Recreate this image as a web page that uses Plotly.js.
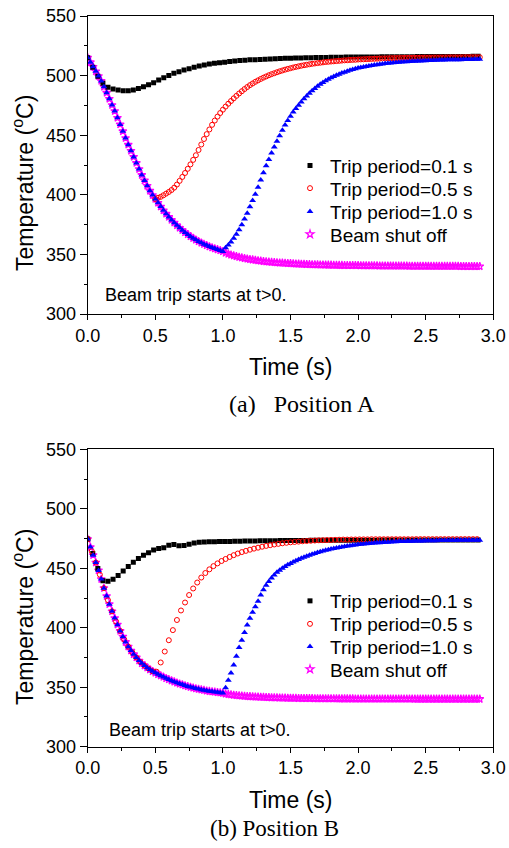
<!DOCTYPE html>
<html><head><meta charset="utf-8">
<script src="https://cdn.plot.ly/plotly-3.0.1.min.js"></script>
<style>html,body{margin:0;padding:0;background:#fff;} #chart{width:509px;height:848px;}</style>
</head><body><div id="chart"></div>
<script>
// ---------------- DATA ----------------
const legendNames = ["Trip period=0.1 s", "Trip period=0.5 s", "Trip period=1.0 s", "Beam shut off"];
const captions = ["(a)\u00a0\u00a0\u00a0Position A", "(b) Position B"];
const noteText = "Beam trip starts at t>0.";
const xTitle = "Time (s)";
const yTitle = "Temperature (<sup>o</sup>C)";
const xTickVals = [0, 0.5, 1.0, 1.5, 2.0, 2.5, 3.0];
const yTickVals = [300, 350, 400, 450, 500, 550];

// sampling: black every 0.0375 s from 0; others every 0.02 s (red B every 0.03 s)
const blackStep = 0.0375, fineStep = 0.02, redBStep = 0.03;

// ----- Position A -----
const blackA = [515.0,507.0,499.5,493.5,490.3,488.8,487.9,487.3,487.3,487.9,
489.2,490.7,492.4,494.1,496.3,498.3,500.1,501.9,503.3,504.7,
505.8,507.0,508.0,508.9,509.7,510.3,510.8,511.3,511.8,512.2,
512.6,512.9,513.2,513.4,513.6,513.8,514.0,514.2,514.3,514.5,514.6,
514.7,514.8,514.9,515.0,515.1,515.2,515.2,515.3,515.4,515.4,515.5,515.5,515.6,
515.6,515.7,515.7,515.7,515.8,515.8,515.8,515.9,515.9,515.9,515.9,516.0,
516.0,516.0,516.0,516.0,516.1,516.1,516.1,516.1,516.1,516.1,516.2,516.2];
// shared cooling curve t = 0 .. 1.00
const coolA = [515.0,511.2,507.4,503.6,499.6,495.5,490.6,485.6,480.5,475.3,
470.2,464.6,459.0,453.3,447.6,442.0,436.9,431.8,426.7,421.6,
416.6,412.0,407.5,403.4,399.8,396.5,393.3,390.1,387.0,384.1,
381.4,378.9,376.6,374.4,372.3,370.3,368.4,366.7,365.1,363.6,
362.2,360.9,359.7,358.6,357.6,356.6,355.7,354.9,354.1,353.3,352.5];
// red recovery t = 0.52 .. 2.90
const redRiseA = [397.5,398.3,399.6,401.0,402.4,404.0,406.0,408.6,411.7,415.0,
418.3,421.8,425.5,429.3,433.2,437.6,442.2,446.8,450.9,454.8,
458.7,462.3,465.6,468.6,471.4,
474.0,476.4,478.7,480.9,483.0,485.0,486.9,488.7,490.4,492.0,
493.4,494.8,496.0,497.2,498.3,499.3,500.3,501.2,502.0,502.8,
503.6,504.3,505.0,505.6,506.2,506.8,507.3,507.8,508.3,508.7,
509.1,509.5,509.9,510.2,510.5,510.8,511.1,511.4,511.6,511.8,
512.0,512.2,512.4,512.6,512.8,512.9,513.1,513.2,513.3,513.5,
513.6,513.7,513.8,513.9,514.0,514.1,514.2,514.3,514.4,514.4,
514.5,514.6,514.6,514.7,514.7,514.8,514.8,514.9,514.9,514.9,
515.0,515.0,515.0,515.1,515.1,515.1,515.1,515.2,515.2,515.2,
515.2,515.2,515.3,515.3,515.3,515.3,515.3,515.3,515.4,515.4,
515.4,515.4,515.4,515.4,515.4];
// blue recovery t = 1.02 .. 2.90
const blueRiseA = [355.5,357.8,360.5,363.5,366.8,370.6,374.9,379.6,384.6,390.0,
395.2,400.4,406.3,412.5,418.6,424.4,429.7,435.0,440.2,445.0,
449.6,454.1,458.5,462.4,466.0,469.4,472.5,475.2,477.9,480.5,
482.9,485.1,487.2,489.1,491.0,492.7,494.2,495.6,496.9,498.1,
499.2,500.2,501.2,502.1,502.9,503.7,504.4,505.1,505.7,506.3,
506.8,507.3,507.7,508.1,508.5,508.9,509.2,509.5,509.8,510.1,
510.4,510.6,510.8,511.0,511.2,511.4,511.6,511.7,511.9,512.0,
512.1,512.2,512.3,512.4,512.5,512.6,512.7,512.8,512.9,513.0,
513.0,513.1,513.2,513.2,513.3,513.3,513.4,513.4,513.5,513.5,
513.6,513.6,513.7,513.7,513.8];
// beam shut off tail t = 1.02 .. 2.90
const magTailA = [351.2,350.4,349.6,348.9,348.3,347.7,347.2,346.7,346.3,345.9,
345.5,345.1,344.8,344.5,344.2,343.9,343.7,343.5,343.3,343.1,
342.9,342.8,342.6,342.5,342.4,342.2,342.1,342.0,341.9,341.8,
341.7,341.6,341.5,341.5,341.4,341.3,341.3,341.2,341.1,341.1,
341.0,341.0,340.9,340.9,340.8,340.8,340.8,340.7,340.7,340.7,
340.6,340.6,340.6,340.5,340.5,340.5,340.5,340.4,340.4,340.4,
340.4,340.4,340.3,340.3,340.3,340.3,340.3,340.3,340.2,340.2,
340.2,340.2,340.2,340.2,340.2,340.2,340.1,340.1,340.1,340.1,
340.1,340.1,340.1,340.1,340.1,340.1,340.1,340.0,340.0,340.0,
340.0,340.0,340.0,340.0,340.0];

// ----- Position B -----
const blackB = [474.5,462.5,449.8,439.5,439.0,440.7,444.0,447.8,451.5,455.0,
458.3,461.0,463.1,465.3,466.6,467.3,469.4,470.0,469.0,469.1,
470.1,471.3,471.8,472.1,472.2,472.3,472.4,472.5,
472.6,472.7,472.8,472.9,473.0,473.0,473.1,473.1,473.2,473.2,
473.3,473.3,473.3,473.4,473.4,473.4,473.5,473.5,473.5,473.5,
473.6,473.6,473.6,473.6,473.6,473.6,473.6,473.6,473.6,473.6,
473.7,473.7,473.7,473.7,473.7,473.7,473.7,473.7,473.7,473.7,
473.8,473.8,473.8,473.8,473.8,473.8,473.8,473.8,473.8,473.8];
const coolB = [474.5,467.8,461.0,454.8,448.2,440.9,433.3,426.6,419.8,413.8,
408.1,402.6,397.3,392.5,388.0,384.1,380.8,377.7,375.0,372.4,
370.1,368.2,366.4,364.8,363.4,362.1,360.8,359.7,358.6,357.5,
356.5,355.5,354.6,353.7,352.9,352.2,351.4,350.7,350.1,349.5,
348.9,348.4,347.9,347.5,347.0,346.6,346.3,346.0,345.7,345.4,345.1];
// red (trip 0.5 s), t = 0 .. 2.88 every 0.03 s
const redB = [474.5,464.4,454.8,444.6,433.3,423.2,413.8,405.3,397.3,390.2,
384.1,379.2,375.0,371.2,368.2,365.6,363.4,363.0,370.8,380.0,
389.5,398.0,406.5,414.5,421.2,427.5,433.0,438.0,442.2,446.0,
449.1,451.8,454.1,456.1,457.8,459.5,461.0,462.4,463.6,464.6,
465.6,466.5,467.3,468.1,468.8,469.4,470.0,470.5,471.0,471.4,
471.8,472.1,472.4,472.7,472.9,473.1,473.3,473.5,473.6,473.7,
473.8,473.9,474.0,474.1,474.1,474.2,474.2,474.3,474.3,474.3,
474.4,474.4,474.4,474.4,474.4,474.4,474.4,474.4,474.4,474.4,
474.4,474.5,474.5,474.5,474.5,474.5,474.5,474.5,474.5,474.5,
474.5,474.5,474.5,474.5,474.5,474.5,474.5];
const blueRiseB = [349.6,355.8,361.9,368.7,376.0,383.3,389.5,396.0,402.4,408.0,
413.0,417.6,422.3,427.5,432.0,435.8,438.9,441.8,444.3,446.6,
448.3,450.0,451.5,452.9,454.1,455.2,456.3,457.4,458.4,459.3,
460.2,461.0,461.8,462.5,463.2,463.9,464.5,465.1,465.6,466.1,
466.6,467.1,467.5,467.9,468.3,468.7,469.0,469.3,469.6,469.9,
470.1,470.4,470.6,470.8,471.0,471.2,471.4,471.5,471.7,471.8,
471.9,472.1,472.2,472.3,472.4,472.5,472.6,472.7,472.7,472.8,
472.9,472.9,473.0,473.0,473.1,473.1,473.2,473.2,473.2,473.3,
473.3,473.3,473.4,473.4,473.4,473.4,473.5,473.5,473.5,473.5,
473.5,473.6,473.6,473.6,473.6];
const magTailB = [344.4,344.0,343.7,343.4,343.1,342.9,342.7,342.5,342.3,342.2,
342.0,341.9,341.8,341.7,341.6,341.5,341.4,341.3,341.2,341.2,
341.1,341.0,341.0,340.9,340.9,340.8,340.8,340.7,340.7,340.7,
340.6,340.6,340.6,340.5,340.5,340.5,340.5,340.4,340.4,340.4,
340.4,340.4,340.3,340.3,340.3,340.3,340.3,340.3,340.2,340.2,
340.2,340.2,340.2,340.2,340.2,340.2,340.2,340.2,340.2,340.2,
340.2,340.2,340.2,340.2,340.2,340.2,340.2,340.2,340.2,340.2,
340.1,340.1,340.1,340.1,340.1,340.1,340.1,340.1,340.1,340.1,
340.1,340.1,340.1,340.1,340.1,340.1,340.1,340.1,340.1,340.1,
340.1,340.1,340.1,340.1,340.1];

// ---------------- helpers ----------------
function grid(t0, dt, n) { const a = []; for (let i = 0; i < n; i++) a.push(+(t0 + i * dt).toFixed(4)); return a; }

const SANS = "Liberation Sans, Arial, sans-serif";
const SERIF = "Liberation Serif, Times New Roman, serif";
const W = 509, H = 848;
// plot areas in px: x 87.7..493.3 ; top y 16..314 ; bottom y 449.3..746.7
const xDom = [87.7 / W, 493.3 / W];
const yDomA = [1 - 314 / H, 1 - 16 / H];
const yDomB = [1 - 746.7 / H, 1 - 449.3 / H];

// legend slots: one legend per entry so rows sit where the reference has them
function makeTraces(black, cool, redX, redY, blueRise, magTail, xa, ya, legIds) {
  const tCool = grid(0, fineStep, cool.length);
  const tRise = grid(1.0 + fineStep, fineStep, blueRise.length);
  const tTail = grid(1.0 + fineStep, fineStep, magTail.length);
  const base = {type: "scatter", mode: "markers", xaxis: xa, yaxis: ya, hoverinfo: "skip"};
  return [
    Object.assign({}, base, {name: legendNames[3], legend: legIds[3], x: tCool.concat(tTail), y: cool.concat(magTail),
      marker: {symbol: "star-open", size: 6, color: "#ff00ff", line: {width: 1.2, color: "#ff00ff"}}}),
    Object.assign({}, base, {name: legendNames[0], legend: legIds[0], x: grid(0, blackStep, black.length), y: black,
      marker: {symbol: "square", size: 5, color: "#000000"}}),
    Object.assign({}, base, {name: legendNames[1], legend: legIds[1], x: redX, y: redY,
      marker: {symbol: "circle-open", size: 5, color: "#ff0000", line: {width: 1, color: "#ff0000"}}}),
    Object.assign({}, base, {name: legendNames[2], legend: legIds[2], x: tCool.concat(tRise), y: cool.concat(blueRise),
      marker: {symbol: "triangle-up", size: 6, color: "#0000ff"}})
  ];
}

// red A: last cooling point (t=0.50) followed by its recovery
const redXA = grid(0.5, fineStep, 1).concat(grid(0.52, fineStep, redRiseA.length));
const redYA = coolA.slice(25, 26).concat(redRiseA);
const tracesA = makeTraces(blackA, coolA, redXA, redYA, blueRiseA, magTailA, "x", "y",
  ["legend", "legend2", "legend3", "legend4"]);
const tracesB = makeTraces(blackB, coolB, grid(0, redBStep, redB.length), redB, blueRiseB, magTailB, "x2", "y2",
  ["legend5", "legend6", "legend7", "legend8"]);

const tickFont = {family: SANS, size: 18, color: "#000"};
const xMinor = [0.25, 0.75, 1.25, 1.75, 2.25, 2.75];
const yMinor = [325, 375, 425, 475, 525];
function xMain(anchor) {
  return {domain: xDom, anchor: anchor, range: [0, 3], tickvals: xTickVals, ticktext: xTickVals.map(v => v.toFixed(1)),
    ticks: "outside", ticklen: 5, tickwidth: 1, tickcolor: "#000", showline: true, mirror: true, linecolor: "#000", linewidth: 1,
    showgrid: false, zeroline: false, tickfont: tickFont,
    minor: {ticks: "outside", ticklen: 3, tickwidth: 1, tickcolor: "#000", tickvals: xMinor, showgrid: false}};
}
function yMain(anchor, dom) {
  return {domain: dom, anchor: anchor, range: [300, 550], tickvals: yTickVals,
    ticks: "outside", ticklen: 7, tickwidth: 1, tickcolor: "#000", showline: true, mirror: true, linecolor: "#000", linewidth: 1,
    showgrid: false, zeroline: false, tickfont: tickFont,
    minor: {ticks: "outside", ticklen: 3, tickwidth: 1, tickcolor: "#000", tickvals: yMinor, showgrid: false}};
}
function xTop(over, anchor) {
  return {overlaying: over, anchor: anchor, side: "top", range: [0, 3], tickvals: xTickVals, showticklabels: false,
    ticks: "inside", ticklen: 6, tickwidth: 1, tickcolor: "#000", showline: false, showgrid: false, zeroline: false,
    minor: {ticks: "inside", ticklen: 3, tickwidth: 1, tickcolor: "#000", tickvals: xMinor, showgrid: false}};
}
function yRight(over, anchor) {
  return {overlaying: over, anchor: anchor, side: "right", range: [300, 550], tickvals: yTickVals, showticklabels: false,
    ticks: "inside", ticklen: 6, tickwidth: 1, tickcolor: "#000", showline: false, showgrid: false, zeroline: false,
    minor: {ticks: "inside", ticklen: 3, tickwidth: 1, tickcolor: "#000", tickvals: yMinor, showgrid: false}};
}

function ann(text, xpx, ypx, size, family, opts) {
  return Object.assign({xref: "paper", yref: "paper", x: xpx / W, y: 1 - ypx / H, text: text, showarrow: false,
    xanchor: "center", yanchor: "middle", font: {family: family, size: size, color: "#000"}}, opts || {});
}

const legendStyle = (yc) => ({x: 290 / W, xanchor: "left", y: 1 - yc / H, yanchor: "middle", bgcolor: "rgba(0,0,0,0)",
  borderwidth: 0, font: {family: SANS, size: 19, color: "#000"}, itemwidth: 30});
const legendRowsA = [165.7, 188.3, 211.7, 234.3];
const legendRowsB = [601, 624, 646.7, 669.3];

const layout = {
  width: W, height: H, margin: {l: 0, r: 0, t: 0, b: 0}, paper_bgcolor: "#fff", plot_bgcolor: "#fff",
  showlegend: true,
  xaxis: xMain("y"), yaxis: yMain("x", yDomA),
  xaxis2: xMain("y2"), yaxis2: yMain("x2", yDomB),
  xaxis3: xTop("x", "y"), yaxis3: yRight("y", "x"),
  xaxis4: xTop("x2", "y2"), yaxis4: yRight("y2", "x2"),
  legend: legendStyle(legendRowsA[0]), legend2: legendStyle(legendRowsA[1]),
  legend3: legendStyle(legendRowsA[2]), legend4: legendStyle(legendRowsA[3]),
  legend5: legendStyle(legendRowsB[0]), legend6: legendStyle(legendRowsB[1]),
  legend7: legendStyle(legendRowsB[2]), legend8: legendStyle(legendRowsB[3]),
  annotations: [
    ann(yTitle, 23, 183, 23, SANS, {textangle: -90}),
    ann(yTitle, 23, 617, 23, SANS, {textangle: -90}),
    ann(xTitle, 290.5, 367.5, 23, SANS),
    ann(xTitle, 290.5, 800, 23, SANS),
    ann(captions[0], 301.7, 404, 24, SERIF),
    ann(captions[1], 274, 828, 23, SERIF),
    ann(noteText, 102.7, 294.5, 18, SANS, {xanchor: "left"}),
    ann(noteText, 107.3, 730, 18, SANS, {xanchor: "left"})
  ]
};

Plotly.newPlot("chart", tracesA.concat(tracesB), layout, {staticPlot: true, displayModeBar: false});
</script></body></html>
